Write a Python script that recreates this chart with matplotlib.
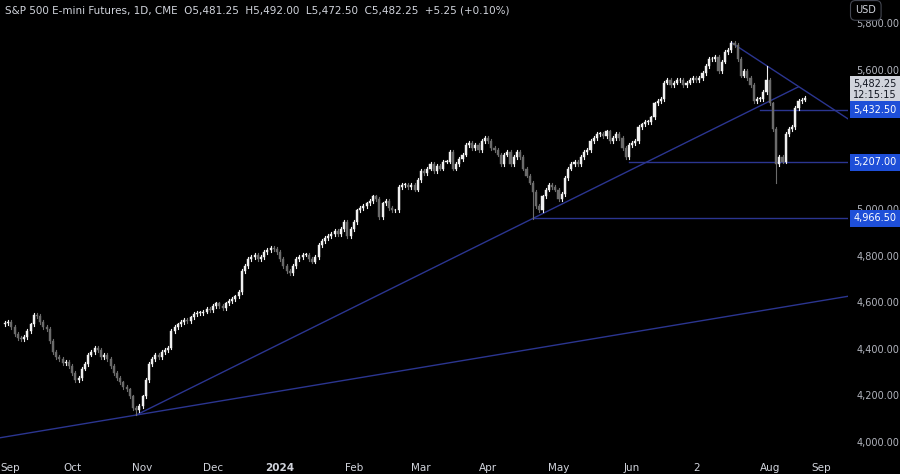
import matplotlib.pyplot as plt
from matplotlib.patches import Rectangle

# daily closes by month (ES futures, Sep 2023 - Aug 2024)
sep23 = [4515, 4520, 4500, 4470, 4450, 4445, 4455, 4480, 4510, 4550, 4545, 4520, 4500, 4490, 4440, 4390, 4370, 4360, 4345, 4350, 4330]
oct23 = [4300, 4270, 4280, 4320, 4340, 4380, 4390, 4410, 4400, 4370, 4380, 4360, 4330, 4300, 4280, 4260, 4240, 4230, 4200, 4150, 4140, 4160]
nov23 = [4200, 4270, 4340, 4360, 4380, 4370, 4390, 4400, 4410, 4480, 4500, 4510, 4520, 4530, 4525, 4540, 4555, 4560, 4560, 4565, 4575, 4570]
dec23 = [4590, 4600, 4590, 4580, 4600, 4610, 4620, 4630, 4650, 4740, 4760, 4790, 4800, 4810, 4790, 4800, 4820, 4830, 4840, 4835, 4820]
jan24 = [4790, 4760, 4740, 4730, 4760, 4790, 4800, 4810, 4810, 4790, 4780, 4800, 4850, 4870, 4880, 4890, 4900, 4910, 4900, 4920, 4950, 4890, 4920]
feb24 = [4950, 5000, 5010, 5020, 5030, 5040, 5060, 5050, 4970, 5030, 5040, 5010, 5000, 5000, 5100, 5110, 5110, 5100, 5110, 5090, 5130]
mar24 = [5170, 5160, 5180, 5200, 5170, 5190, 5180, 5210, 5210, 5250, 5180, 5200, 5220, 5240, 5280, 5290, 5270, 5280, 5260, 5300, 5310]
apr24 = [5300, 5270, 5260, 5240, 5200, 5240, 5250, 5200, 5230, 5250, 5230, 5180, 5150, 5120, 5080, 5020, 5000, 5060, 5090, 5110, 5100, 5090]
may24 = [5050, 5070, 5140, 5180, 5200, 5210, 5200, 5230, 5250, 5260, 5300, 5310, 5330, 5330, 5320, 5340, 5300, 5310, 5330, 5310, 5270, 5230, 5280]
jun24 = [5290, 5300, 5360, 5370, 5380, 5380, 5400, 5460, 5470, 5480, 5550, 5560, 5540, 5550, 5560, 5560, 5540, 5550, 5560, 5570]
jul24 = [5560, 5570, 5590, 5620, 5650, 5650, 5660, 5600, 5640, 5680, 5690, 5720, 5710, 5650, 5580, 5600, 5570, 5540, 5470, 5480, 5480, 5510, 5560]
aug24 = [5460, 5350, 5200, 5230, 5210, 5330, 5350, 5360, 5440, 5470, 5477, 5482.25]

months = [sep23, oct23, nov23, dec23, jan24, feb24, mar24, apr24, may24, jun24, jul24, aug24]
month_labels = ["Sep", "Oct", "Nov", "Dec", "2024", "Feb", "Mar", "Apr", "May", "Jun", "2", "Aug"]

# notable wick lows/highs (index within full series)
wick_lows = {41: 4120, 165: 4963, 241: 5120}
wick_highs = {227: 5730, 238: 5620}

levels = [5432.5, 5207.0, 4966.5]
level_starts = [236, 195, 165]
y_ticks = [4000, 4200, 4400, 4600, 4800, 5000, 5600, 5800]
last_price = 5482.25

closes = [c for m in months for c in m]
opens = [closes[0] - 5] + closes[:-1]
starts = []
n = 0
for m in months:
    starts.append(n)
    n += len(m)

BG = "#000000"
LINE = "#2b3590"
fig = plt.figure(figsize=(9, 4.74), dpi=100, facecolor=BG)
ax = fig.add_axes([0, 0.04, 0.942, 0.96])
ax.set_facecolor(BG)
for s in ax.spines.values():
    s.set_visible(False)

for i, (o, c) in enumerate(zip(opens, closes)):
    up = c >= o
    col = "#f0f0f0" if up else "#6b6b6b"
    lo = wick_lows.get(i, min(o, c) - 8)
    hi = wick_highs.get(i, max(o, c) + 8)
    ax.plot([i, i], [lo, hi], color=col, lw=0.8, zorder=3)
    ax.add_patch(Rectangle((i - 0.33, min(o, c)), 0.66, max(abs(c - o), 3),
                           facecolor=col, edgecolor=col, lw=0.3, zorder=4))

x0, x1 = -1.56, 263.4
# trendlines
ax.plot([x0, x1], [4120 + (x0 - 41) * 2.296, 4120 + (x1 - 41) * 2.296], color=LINE, lw=1)
ax.plot([41, 248], [4120, 4120 + 207 * 6.82], color=LINE, lw=1)
ax.plot([227, x1], [5722, 5722 - (x1 - 227) * 9.0], color=LINE, lw=1)
for lv, st in zip(levels, level_starts):
    ax.plot([st, x1], [lv, lv], color=LINE, lw=1)

ax.set_xlim(x0, x1)
ax.set_ylim(3948, 5905)
ax.set_xticks([])
ax.set_yticks([])

# x labels
for st, lab in zip(starts + [255], month_labels + ["Sep"]):
    ax.annotate(lab, xy=(x0 if st == 0 else st, 0), xycoords=("data", "axes fraction"),
                xytext=(0, -9), textcoords="offset points",
                ha="left" if st == 0 else "center", va="center",
                fontsize=7.5, color="#d1d4dc", fontweight="bold" if lab == "2024" else "normal",
                annotation_clip=False)

# price axis
for t in y_ticks:
    ax.annotate(f"{t:,.2f}", xy=(1.0, t), xycoords=("axes fraction", "data"), xytext=(6, 0),
                textcoords="offset points", ha="left", va="center", fontsize=7,
                color="#b2b5be", annotation_clip=False)
for lv in levels:
    ax.annotate(f"{lv:,.2f}", xy=(1.0, lv), xycoords=("axes fraction", "data"), xytext=(4, 0),
                textcoords="offset points", ha="left", va="center", fontsize=7, color="white",
                bbox=dict(boxstyle="square,pad=0.35", fc="#1e4fd8", ec="none"),
                annotation_clip=False, zorder=10)
ax.annotate(f"{last_price:,.2f}\n12:15:15", xy=(1.0, 5520), xycoords=("axes fraction", "data"),
            xytext=(4, 0), textcoords="offset points", ha="left", va="center", fontsize=7,
            color="#131722", linespacing=1.15,
            bbox=dict(boxstyle="square,pad=0.3", fc="#d1d4dc", ec="none"), annotation_clip=False)

fig.text(0.962, 0.978, "USD", ha="center", va="center", fontsize=7, color="#d1d4dc",
         bbox=dict(boxstyle="round,pad=0.5", fc=BG, ec="#434651", lw=0.8))
fig.text(0.006, 0.978, "S&P 500 E-mini Futures, 1D, CME  O5,481.25  H5,492.00  L5,472.50  C5,482.25  +5.25 (+0.10%)",
         ha="left", va="center", fontsize=7.5, color="#d1d4dc")

fig.savefig("out.png", dpi=100, facecolor=BG)
